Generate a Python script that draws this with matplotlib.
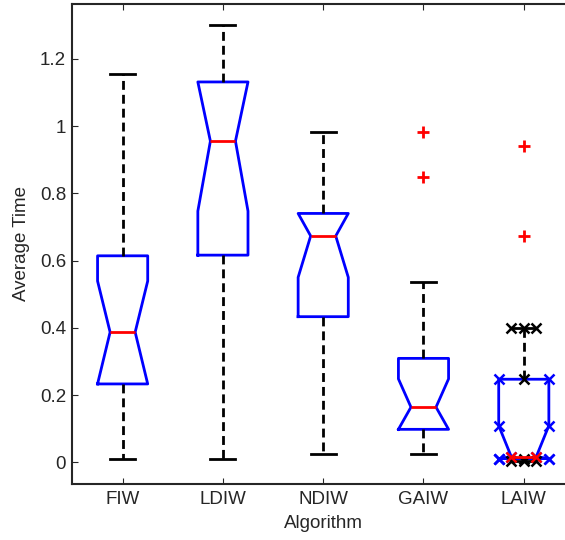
import matplotlib
matplotlib.use("Agg")
import matplotlib.pyplot as plt

plt.rcParams['font.family'] = ['Liberation Sans', 'DejaVu Sans']

# Summary statistics per algorithm
algorithms = ["FIW", "LDIW", "NDIW", "GAIW", "LAIW"]
whisker_low = [0.010, 0.010, 0.024, 0.024, 0.005]
q1 = [0.233, 0.616, 0.433, 0.098, 0.011]
median = [0.387, 0.955, 0.673, 0.164, 0.017]
q3 = [0.614, 1.131, 0.740, 0.309, 0.247]
whisker_high = [1.155, 1.300, 0.983, 0.536, 0.400]
notch_low = [0.233, 0.747, 0.550, 0.098, 0.011]
notch_high = [0.539, 1.131, 0.740, 0.248, 0.109]
outliers = [[], [], [], [0.981, 0.849], [0.940, 0.673]]

yticks = [0, 0.2, 0.4, 0.6, 0.8, 1.0, 1.2]
ytick_labels = ["0", "0.2", "0.4", "0.6", "0.8", "1", "1.2"]

stats = []
for i, name in enumerate(algorithms):
    stats.append(dict(label=name, whislo=whisker_low[i], q1=q1[i], med=median[i],
                      q3=q3[i], whishi=whisker_high[i], cilo=notch_low[i],
                      cihi=notch_high[i], fliers=outliers[i]))

fig = plt.figure(figsize=(5.65, 5.40), dpi=100)
ax = fig.add_axes([0.1283, 0.1043, 0.8875, 0.8883])

dash = (3.2, 1.8)
base = dict(widths=0.5, capwidths=0.25, shownotches=True, showfliers=True,
            manage_ticks=False)

def draw(sub, positions, marker=None):
    mk = dict(marker=marker, markersize=7, markeredgewidth=1.8) if marker else {}
    ax.bxp(sub, positions=positions,
           boxprops=dict(color='#0000ff', linewidth=2.0, **mk),
           medianprops=dict(color='#ff0000', linewidth=2.0, **mk),
           whiskerprops=dict(color='black', linewidth=2.0, linestyle=(0, dash), **mk),
           capprops=dict(color='black', linewidth=2.0, **mk),
           flierprops=dict(marker='+', markersize=9, markeredgewidth=2.0,
                           markeredgecolor='#ff0000', linestyle='none'),
           **base)

draw(stats[:4], [1, 2, 3, 4])
draw(stats[4:], [5], marker='x')

ax.set_xlim(0.5, 5.5)
ax.set_ylim(-0.0636, 1.3628)
ax.set_xticks(range(1, 6))
ax.set_xticklabels(algorithms)
ax.set_yticks(yticks)
ax.set_yticklabels(ytick_labels)
ax.tick_params(direction='in', top=True, right=True, length=4, width=0.8,
               labelsize=13.5, colors='#262626')
ax.tick_params(axis='x', pad=5.5)
ax.tick_params(axis='y', pad=4.5)
for s in ax.spines.values():
    s.set_linewidth(1.5)
    s.set_color('#262626')

ax.set_xlabel("Algorithm", fontsize=13.5, color='#262626', labelpad=5)
ax.set_ylabel("Average Time", fontsize=13.5, color='#262626', labelpad=7)

fig.savefig("out.png", dpi=100)
